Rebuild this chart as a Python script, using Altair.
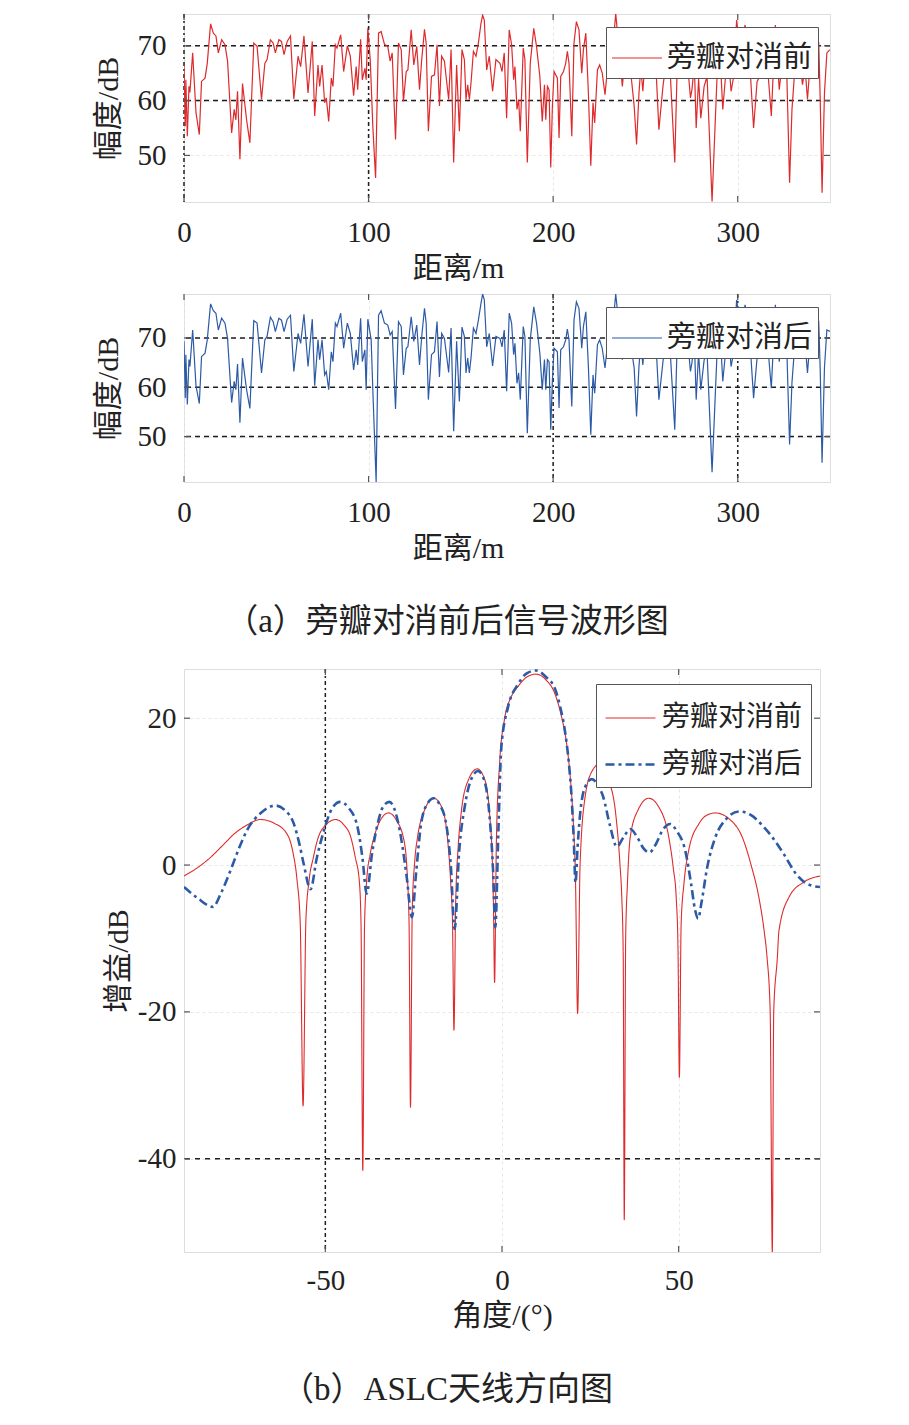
import altair as alt
import pandas as pd

# ---------------- panel (a) : range profiles ----------------
dist_before = [0, 0.7, 1.0, 1.8, 2.7, 3.2, 4.7, 6.5, 8.3, 9.5, 11.4, 12.6, 14.4, 15.9, 17.3, 18.6, 20.4, 22.2, 23.6, 25.8,
               27.2, 28.1, 29.0, 30.3, 31.7, 33.9, 35.7, 37.8, 39.6, 42.0, 43.8, 45.0, 46.8, 48.3, 49.5, 51.4, 52.8, 54.2,
               55.9, 57.7, 59.5, 61.8, 63.2, 65.0, 67.2, 69.5, 70.8, 72.6, 73.5, 74.8, 76.2, 77.1, 78.4, 79.8, 80.7, 82.0,
               82.9, 84.9, 86.5, 88.5, 90.1, 91.9, 93.3, 94.1, 95.7, 96.6, 98.0, 98.7, 99.6, 100.9, 102.3, 103.8, 105.4,
               106.8, 108.6, 110.4, 111.7, 112.8, 114.6, 116.2, 117.7, 118.9, 120.4, 121.3, 123.1, 124.5, 126.1, 127.6,
               128.8, 130.3, 131.2, 132.4, 134.1, 135.7, 137.1, 138.4, 139.6, 141.1, 142.0, 143.4, 144.7, 146.1, 147.7,
               149.2, 150.6, 151.9, 152.8, 153.7, 154.6, 155.5, 156.8, 158.2, 159.5, 160.9, 161.8, 162.7, 164.0, 165.4,
               167.2, 169.0, 171.2, 172.3, 173.5, 174.8, 176.2, 177.5, 178.6, 179.3, 180.4, 181.3, 182.2, 183.8, 184.7,
               186.0, 187.6, 189.5, 191.0, 192.8, 194.1, 195.3, 196.0, 196.9, 197.8, 198.7, 199.6, 200.5, 202.3, 203.2,
               204.1, 205.6, 206.8, 207.7, 208.6, 210.1, 211.3, 212.6, 214.0, 215.5, 216.4, 217.7, 219.1, 220.4, 221.6,
               222.5, 224.0, 225.2, 226.6, 228.1, 230.5, 232.0, 233.9, 235.8, 237.5, 239.5, 241.5, 243.9, 245.2, 246.5,
               247.5, 248.6, 250.5, 253.0, 255.0, 257.3, 259.5, 260.2, 263.0, 265.9, 267.5, 270.0, 272.0, 274.4, 275.2,
               276.5, 277.5, 278.8, 280.0, 281.8, 283.4, 286.1, 288.8, 290.5, 291.9, 293.4, 295.0, 296.4, 297.8, 299.4,
               301.5, 304.0, 306.5, 308.6, 310.5, 313.0, 315.5, 318.2, 320.4, 322.5, 324.5, 326.5, 328.1, 329.4, 331.0,
               333.0, 335.1, 336.5, 337.8, 339.5, 341.5, 343.9, 344.7, 345.7, 347.0, 348.3, 350.0]
amp_before = [66.5, 55.3, 63.8, 53.5, 62.6, 61.5, 68.7, 57.8, 53.8, 63.5, 64.1, 66.8, 74.0, 72.3, 71.8, 68.7, 71.1, 70.2, 67.2, 54.1,
              58.4, 56.5, 61.7, 49.3, 63.1, 56.5, 52.3, 70.5, 69.9, 60.2, 66.8, 67.5, 71.1, 70.5, 68.7, 71.1, 70.8, 68.4,
              70.8, 71.8, 60.3, 68.1, 66.2, 71.8, 61.4, 70.8, 57.2, 66.5, 62.6, 66.5, 59.6, 60.5, 56.2, 64.1, 62.6, 70.2,
              69.6, 72.0, 65.3, 70.0, 68.1, 60.9, 66.2, 62.0, 71.2, 63.8, 65.9, 63.8, 73.2, 67.5, 55.3, 45.9, 72.3,
              72.6, 70.3, 69.9, 67.2, 68.7, 52.9, 70.5, 69.3, 59.9, 65.3, 65.6, 72.9, 66.5, 69.9, 62.0,
              67.5, 73.0, 70.5, 54.4, 64.4, 64.7, 70.2, 59.0, 68.1, 67.2, 64.4, 60.2, 69.3, 48.7, 66.5,
              54.4, 69.3, 67.5, 60.2, 62.9, 60.2, 63.2, 69.0, 68.1, 70.5, 74.1, 75.6, 74.7, 65.6, 68.1,
              61.7, 67.5, 66.8, 65.3, 68.7, 56.8, 72.9, 70.2, 63.8, 66.2, 58.4, 60.2, 54.4, 69.6, 67.5,
              48.7, 66.8, 73.2, 69.9, 64.4, 56.2, 62.9, 56.5, 62.6, 62.0, 47.8, 59.0, 65.3, 64.1, 53.2,
              64.4, 65.3, 66.8, 69.0, 66.8, 53.5, 70.5, 74.4, 72.9, 65.0, 69.3, 72.3, 61.4, 48.1, 59.6,
              55.9, 65.6, 66.5, 65.0, 61.1, 69.5, 68.0, 75.9, 69.0, 62.6, 70.0, 67.0, 59.0, 52.0, 61.4,
              66.0, 61.7, 70.5, 68.0, 71.0, 54.7, 62.6, 64.4, 68.0, 48.7, 70.0, 67.0, 70.0, 60.5, 62.0,
              66.5, 55.0, 64.0, 56.8, 62.6, 64.4, 41.6, 64.4, 68.0, 58.4, 64.4, 68.0, 61.7, 64.4, 74.7,
              69.0, 73.8, 67.0, 55.0, 63.5, 65.0, 69.0, 57.2, 73.8, 62.0, 68.0, 66.0, 45.0, 58.4, 66.0,
              69.0, 62.9, 66.0, 60.2, 68.0, 70.0, 70.5, 60.2, 43.2, 61.4, 68.7, 69.3]

dist_after = [0, 0.7, 1.0, 1.8, 2.7, 3.2, 4.7, 6.5, 8.3, 9.5, 11.4, 12.6, 14.4, 15.9, 17.3, 18.6, 20.4, 22.2, 23.6, 25.8,
              27.2, 28.1, 29.0, 30.3, 31.7, 33.9, 35.7, 37.8, 39.6, 42.0, 43.8, 45.0, 46.8, 48.3, 49.5, 51.4, 52.8, 54.2,
              55.9, 57.7, 59.5, 61.8, 63.2, 65.0, 67.2, 69.5, 70.8, 72.6, 73.5, 74.8, 76.2, 77.1, 78.4, 79.8, 80.7, 82.0,
              82.9, 84.9, 86.5, 88.5, 90.1, 91.9, 93.3, 94.1, 95.7, 96.6, 98.0, 98.7, 99.6, 101.4, 102.3, 104.1, 105.4,
              106.8, 108.6, 110.4, 111.7, 112.8, 114.6, 116.2, 117.7, 118.9, 120.4, 121.3, 123.1, 124.5, 126.1, 127.6,
              128.8, 130.3, 131.2, 132.4, 134.1, 135.7, 137.1, 138.4, 139.6, 141.1, 142.0, 143.4, 144.7, 146.1, 147.7,
              149.2, 150.6, 151.9, 152.8, 153.7, 154.6, 155.5, 156.8, 158.2, 159.5, 160.9, 161.8, 162.7, 164.0, 165.4,
              167.2, 169.0, 171.2, 172.3, 173.5, 174.8, 176.2, 177.5, 178.6, 179.3, 180.4, 181.3, 182.2, 183.8, 184.7,
              186.0, 187.6, 189.5, 191.0, 192.8, 194.1, 195.3, 196.0, 196.9, 197.8, 198.7, 199.6, 200.5, 202.3, 203.2,
              204.1, 205.6, 206.8, 207.7, 208.6, 210.1, 211.3, 212.6, 214.0, 215.5, 216.4, 217.7, 219.1, 220.4, 221.6,
              222.5, 224.0, 225.2, 226.6, 228.1, 230.5, 232.0, 233.9, 235.8, 237.5, 239.5, 241.5, 243.9, 245.2, 246.5,
              247.5, 248.6, 250.5, 253.0, 255.0, 257.3, 259.5, 260.2, 263.0, 265.9, 267.5, 270.0, 272.0, 274.4, 275.2,
              276.5, 277.5, 278.8, 280.0, 281.8, 283.4, 286.1, 288.8, 290.5, 291.9, 293.4, 295.0, 296.4, 297.8, 299.4,
              301.5, 304.0, 306.5, 308.6, 310.5, 313.0, 315.5, 318.2, 320.4, 322.5, 324.5, 326.5, 328.1, 329.4, 331.0,
              333.0, 335.1, 336.5, 337.8, 339.5, 341.5, 343.9, 344.7, 345.7, 347.0, 348.3, 350.0]
amp_after = [69.3, 57.8, 66.6, 56.5, 65.6, 64.2, 71.6, 60.3, 56.7, 66.2, 66.9, 69.6, 76.9, 75.5, 75.0, 71.6, 74.0, 73.0, 69.9, 56.9,
             61.2, 59.5, 64.7, 52.8, 65.9, 59.5, 55.7, 73.5, 73.0, 62.9, 69.6, 70.3, 74.2, 73.3, 71.3, 74.0, 73.6, 71.3,
             73.8, 74.6, 63.2, 70.9, 68.9, 74.8, 64.2, 73.8, 60.3, 69.6, 65.6, 69.6, 62.5, 63.2, 59.5, 67.2, 65.2, 73.0,
             72.3, 75.0, 67.9, 73.0, 70.9, 63.5, 67.6, 64.5, 74.0, 65.2, 67.6, 59.5, 73.8, 69.6, 59.5, 40.8, 74.6,
             75.5, 73.0, 72.6, 70.6, 71.3, 55.6, 73.3, 72.3, 62.5, 67.9, 68.2, 74.3, 69.3, 72.6, 64.5,
             70.3, 76.0, 73.0, 57.5, 66.6, 67.2, 73.3, 62.1, 70.9, 69.9, 67.2, 63.0, 72.0, 51.1, 69.3,
             57.1, 72.2, 70.3, 62.9, 65.9, 62.9, 65.9, 72.0, 70.9, 73.6, 77.0, 78.9, 77.7, 68.2, 70.9,
             64.3, 70.3, 69.9, 68.2, 71.6, 59.2, 75.0, 73.0, 66.6, 68.9, 60.8, 62.9, 57.5, 72.3, 70.3,
             50.7, 69.6, 76.3, 73.0, 66.9, 59.5, 65.6, 59.5, 65.6, 65.2, 51.4, 61.5, 67.9, 67.2, 55.8,
             67.6, 68.2, 69.6, 71.8, 69.6, 56.1, 73.6, 77.3, 76.0, 67.9, 72.3, 75.3, 64.2, 50.4, 62.5,
             58.8, 68.6, 69.6, 67.9, 63.9, 72.5, 71.0, 78.9, 72.0, 65.6, 73.0, 70.0, 63.9, 54.1, 64.2,
             69.0, 64.5, 73.5, 71.0, 74.0, 57.5, 65.2, 67.0, 70.0, 51.4, 73.0, 70.0, 73.0, 63.2, 65.0,
             69.5, 57.5, 67.0, 59.5, 65.5, 67.0, 42.8, 67.0, 71.0, 61.2, 67.0, 71.0, 64.2, 67.0, 77.7,
             72.0, 76.7, 70.0, 57.8, 66.0, 68.0, 72.0, 59.8, 76.7, 65.2, 71.0, 69.0, 48.4, 61.0, 69.0,
             72.0, 66.0, 69.0, 62.9, 71.0, 73.0, 73.3, 63.5, 44.7, 64.0, 71.6, 71.3]

# ---------------- panel (b) : antenna patterns ----------------
ang_before = [-90, -86, -82.6, -79, -75.9, -72, -68.4, -64.5, -60.8, -59.2, -58.0, -57.1, -56.3,
              -55.5, -54.6, -53.4, -52.3, -49.8, -47.1, -44.8, -42.8, -41.5, -40.4, -39.9, -39.4,
              -38.9, -38.3, -37.3, -36.2, -34.2, -32.1, -30.0, -27.6, -26.8, -26.3, -25.9,
              -25.4, -24.7, -23.9, -22.3, -19.3, -17.0, -15.3, -14.5, -14.0, -13.6,
              -13.1, -12.4, -11.6, -9.6, -7.0, -5.0, -3.5, -2.7, -2.4, -2.1,
              -1.6, -0.7, 0.8, 2.5, 4.5, 7.0, 9.6, 12.5, 15.0, 16.8, 18.3, 19.4, 20.2, 20.8, 21.4,
              22.1, 23.5, 25.5, 28.0, 30.3, 32.2, 33.4, 33.9, 34.3, 34.6,
              35.0, 35.5, 36.3, 38.5, 41.5, 44.5, 47.2, 48.5, 49.3, 49.8, 50.2,
              50.7, 51.5, 52.8, 55.7, 58.0, 60.4, 64.5, 68.0, 70.5, 72.7, 74.2, 75.0, 75.9, 76.5,
              76.9, 77.9, 78.4, 81.2, 85.5, 90]
gain_before = [-1.5, -0.3, 1.0, 2.7, 4.2, 5.5, 6.2, 5.7, 4.2, 1.8, -2.1, -8.0, -32.8,
               -7.5, -2.1, 1.0, 3.3, 5.5, 6.2, 5.5, 3.8, 1.0, -2.1, -8.0, -41.6,
               -8.0, -2.1, 1.5, 3.8, 6.3, 7.1, 6.2, 3.0, -1.5, -8.0, -33.0,
               -6.0, 0.5, 3.8, 7.0, 9.1, 7.8, 3.0, -2.5, -8.0, -22.5,
               -5.0, 2.5, 6.9, 11.5, 13.1, 11.8, 6.9, 0.0, -6.0, -16.0,
               3.0, 13.7, 20.1, 22.8, 24.3, 25.6, 26.0, 25.2, 23.3, 20.3, 16.5, 11.5, 5.6, -2.0, -20.2,
               0.1, 9.2, 12.8, 13.9, 11.5, 6.9, 0.0, -4.4, -12.0, -48.3,
               -10.0, -2.5, 3.8, 7.5, 9.1, 7.8, 3.8, -0.5, -4.4, -11.0, -28.9,
               -8.0, -2.5, 1.9, 5.6, 6.8, 7.1, 6.2, 3.8, 0.0, -4.4, -9.0, -12.5, -20.0, -52.7,
               -20.0, -12.8, -8.9, -4.4, -2.3, -1.5]

ang_after = [-90, -86.4, -81.8, -79.5, -76.9, -74.5, -72.2, -68.0, -64.1, -61.5, -58.9, -57.4, -56.1, -54.2,
             -52.4, -50.4, -48.2, -45.8, -43.4, -40.9, -39.5, -38.3, -36.8, -35.2, -33.6, -31.9, -30.2, -28.6,
             -27.0, -25.5, -24.3, -22.9, -21.2, -19.3, -17.6, -15.8, -14.5, -13.4, -12.1, -10.6, -8.7, -6.8,
             -5.0, -3.5, -2.5, -1.9, -1.0, -0.2, 1.7, 4.5, 7.0, 9.6, 12.5, 15.0, 16.5, 17.8, 18.9, 19.7, 20.3,
             20.8, 21.4, 22.1, 23.5, 25.4, 27.0, 28.7, 30.5, 32.5, 34.4, 36.3, 38.5, 40.0, 41.7, 43.5, 45.5,
             47.6, 49.5, 51.9, 53.5, 54.6, 55.5, 56.5, 58.0, 60.4, 63.5, 67.0, 70.5, 73.5, 76.5, 80.0, 83.2,
             86.5, 90]
gain_after = [-3.0, -4.4, -5.7, -3.8, -0.8, 2.2, 4.7, 7.2, 8.1, 7.5, 5.6, 3.0, 0.1, -3.3,
              1.0, 4.7, 7.6, 8.6, 7.8, 5.2, 1.0, -3.9, 1.5, 5.6, 8.0, 8.6, 7.3, 3.8,
              -1.5, -7.1, -1.0, 5.6, 8.3, 9.1, 8.2, 5.6, 0.0, -8.7, 2.0, 7.8, 11.7, 12.8,
              11.5, 6.5, -1.0, -8.5, 5.0, 16.0, 21.5, 24.6, 26.1, 26.5, 25.6, 24.0, 21.5, 18.3, 14.0, 9.2, 3.5,
              -2.4, 2.5, 6.9, 10.6, 11.7, 11.0, 9.2, 5.5, 2.5, 3.8, 4.9, 3.6, 2.3, 1.7, 2.8, 4.8,
              5.6, 4.6, 1.9, -2.5, -6.0, -7.3, -5.0, -0.5, 3.8, 6.3, 7.3, 6.8, 5.5, 3.8, 1.3, -1.2,
              -2.6, -3.0]

series_names = ["旁瓣对消前", "旁瓣对消后"]
series_colors = ["#de2a2c", "#2c5aa6"]

dist_ticks = [0, 100, 200, 300]
amp_ticks = [50, 60, 70]
ang_ticks = [-50, 0, 50]
gain_ticks = [-40, -20, 0, 20]

FONT = "Liberation Serif, Noto Sans CJK SC"
AXC = "#555555"
TXT = "#222222"
GRID = "#e6e6e6"
BLACK = "#1e1e1e"


def tick_layers(xvals, yvals, X_of, Y_of, W, H, L=6):
    dfx = pd.DataFrame({"v": xvals})
    dfy = pd.DataFrame({"v": yvals})
    rx = alt.Chart(dfx).mark_rule(color=AXC, strokeWidth=1.2)
    ry = alt.Chart(dfy).mark_rule(color=AXC, strokeWidth=1.2)
    return [
        rx.encode(x=X_of("v"), y=alt.value(H), y2=alt.value(H - L)),
        rx.encode(x=X_of("v"), y=alt.value(0), y2=alt.value(L)),
        ry.encode(y=Y_of("v"), x=alt.value(0), x2=alt.value(L)),
        ry.encode(y=Y_of("v"), x=alt.value(W - L), x2=alt.value(W)),
    ]


def axis_common(**kw):
    return alt.Axis(domain=False, ticks=False, grid=True, gridColor=GRID, gridDash=[3, 3], gridWidth=1,
                    labelFont=FONT, labelFontSize=29, labelColor=TXT, labelFlush=False,
                    labelExpr="'' + datum.value",
                    titleFont=FONT, titleFontSize=30, titleFontWeight="normal", titleColor=TXT, **kw)


def profile_panel(dist, amp, name, color, ydom, black_y, black_x, caption=None):
    W, H = 646, 188
    xs = alt.Scale(domain=[0, 350], nice=False, zero=False)
    ys = alt.Scale(domain=ydom, nice=False, zero=False)
    xaxis = axis_common(values=dist_ticks, title="距离/m", labelPadding=16,
                        titleX=274, titleY=66, titleBaseline="middle", titleAlign="center")
    yaxis = axis_common(values=amp_ticks, title="幅度/dB", labelPadding=18,
                        titleX=-76, titleY=H / 2, titleAngle=-90, titleBaseline="middle", titleAlign="center")

    def X_of(f):
        return alt.X(f + ":Q", scale=xs, axis=xaxis)

    def Y_of(f):
        return alt.Y(f + ":Q", scale=ys, axis=yaxis)

    df = pd.DataFrame({"d": dist, "a": amp, "s": [name] * len(dist)})
    legend = alt.Legend(title=None, orient="none", legendX=422, legendY=13, fillColor="white",
                        strokeColor=AXC, padding=5, symbolType="stroke", symbolSize=2500,
                        symbolStrokeWidth=1.2, labelFont=FONT, labelFontSize=29, labelColor=TXT,
                        labelOffset=4)
    line = alt.Chart(df).mark_line(strokeWidth=1.2, clip=True).encode(
        x=X_of("d"), y=Y_of("a"),
        color=alt.Color("s:N", scale=alt.Scale(domain=[name], range=[color]), legend=legend),
        order="d:Q",
    )
    hr = alt.Chart(pd.DataFrame({"v": black_y})).mark_rule(color=BLACK, strokeWidth=1.5, strokeDash=[5, 4]).encode(
        y=Y_of("v"))
    vr = alt.Chart(pd.DataFrame({"v": black_x})).mark_rule(color=BLACK, strokeWidth=1.5, strokeDash=[4, 3, 2, 3]).encode(
        x=X_of("v"))
    ch = alt.layer(hr, vr, line, *tick_layers(dist_ticks, amp_ticks, X_of, Y_of, W, H)).properties(width=W, height=H)
    if caption:
        ch = ch.properties(title=alt.TitleParams(caption, orient="bottom", anchor="middle", dx=-60, offset=43,
                                                 font=FONT, fontSize=33, fontWeight="normal", color=TXT))
    return ch


top = profile_panel(dist_before, amp_before, series_names[0], series_colors[0], [41.5, 75.8], [60, 70], [0, 100])
mid = profile_panel(dist_after, amp_after, series_names[1], series_colors[1], [40.8, 78.9], [50, 60, 70], [200, 300],
                    caption="（a）旁瓣对消前后信号波形图")

# ---- pattern panel
W2, H2 = 636, 583
xs2 = alt.Scale(domain=[-90, 90], nice=False, zero=False)
ys2 = alt.Scale(domain=[-52.7, 26.7], nice=False, zero=False)
xaxis2 = axis_common(values=ang_ticks, title="角度/(°)", labelPadding=14,
                     titleX=W2 / 2, titleY=63, titleBaseline="middle", titleAlign="center")
yaxis2 = axis_common(values=gain_ticks, title="增益/dB", labelPadding=8,
                     titleX=-66, titleY=H2 / 2, titleAngle=-90, titleBaseline="middle", titleAlign="center")


def X2(f):
    return alt.X(f + ":Q", scale=xs2, axis=xaxis2)


def Y2(f):
    return alt.Y(f + ":Q", scale=ys2, axis=yaxis2)


pat = pd.concat([
    pd.DataFrame({"ang": ang_before, "g": gain_before, "s": series_names[0]}),
    pd.DataFrame({"ang": ang_after, "g": gain_after, "s": series_names[1]}),
])
leg2 = alt.Legend(title=None, orient="none", legendX=412, legendY=15, fillColor="white", strokeColor=AXC,
                  padding=8, rowPadding=6, symbolType="stroke", symbolSize=2500, labelFont=FONT,
                  labelFontSize=28, labelColor=TXT, labelOffset=5)
lines2 = alt.Chart(pat).mark_line(clip=True, interpolate="monotone").encode(
    x=X2("ang"), y=Y2("g"),
    color=alt.Color("s:N", scale=alt.Scale(domain=series_names, range=series_colors), legend=leg2),
    strokeDash=alt.StrokeDash("s:N", scale=alt.Scale(domain=series_names, range=[[1, 0], [9, 4, 3, 4]]), legend=leg2),
    strokeWidth=alt.StrokeWidth("s:N", scale=alt.Scale(domain=series_names, range=[1.1, 2.6]), legend=leg2),
    order="ang:Q",
)
hr2 = alt.Chart(pd.DataFrame({"v": [-40]})).mark_rule(color=BLACK, strokeWidth=1.5, strokeDash=[5, 5]).encode(
    y=Y2("v"))
vr2 = alt.Chart(pd.DataFrame({"v": [-50]})).mark_rule(color=BLACK, strokeWidth=1.5, strokeDash=[4, 3, 2, 3]).encode(
    x=X2("v"))
pattern = alt.layer(hr2, vr2, lines2, *tick_layers(ang_ticks, gain_ticks, X2, Y2, W2, H2)).properties(
    width=W2, height=H2,
    title=alt.TitleParams("（b）ASLC天线方向图", orient="bottom", anchor="middle", dx=-55, offset=44,
                          font=FONT, fontSize=33, fontWeight="normal", color=TXT))

res = dict(x="independent", y="independent", color="independent", strokeDash="independent",
           strokeWidth="independent")
upper = alt.vconcat(top, mid, spacing=8).resolve_scale(**res)
chart = alt.vconcat(upper, pattern, spacing=27).resolve_scale(**res).properties(
    padding={"left": 84, "top": 4, "right": 10, "bottom": 10}
).configure_view(stroke=AXC, strokeWidth=1.3).configure(background="white")

chart.save("out.html", embed_options={"renderer": "svg", "actions": False})
